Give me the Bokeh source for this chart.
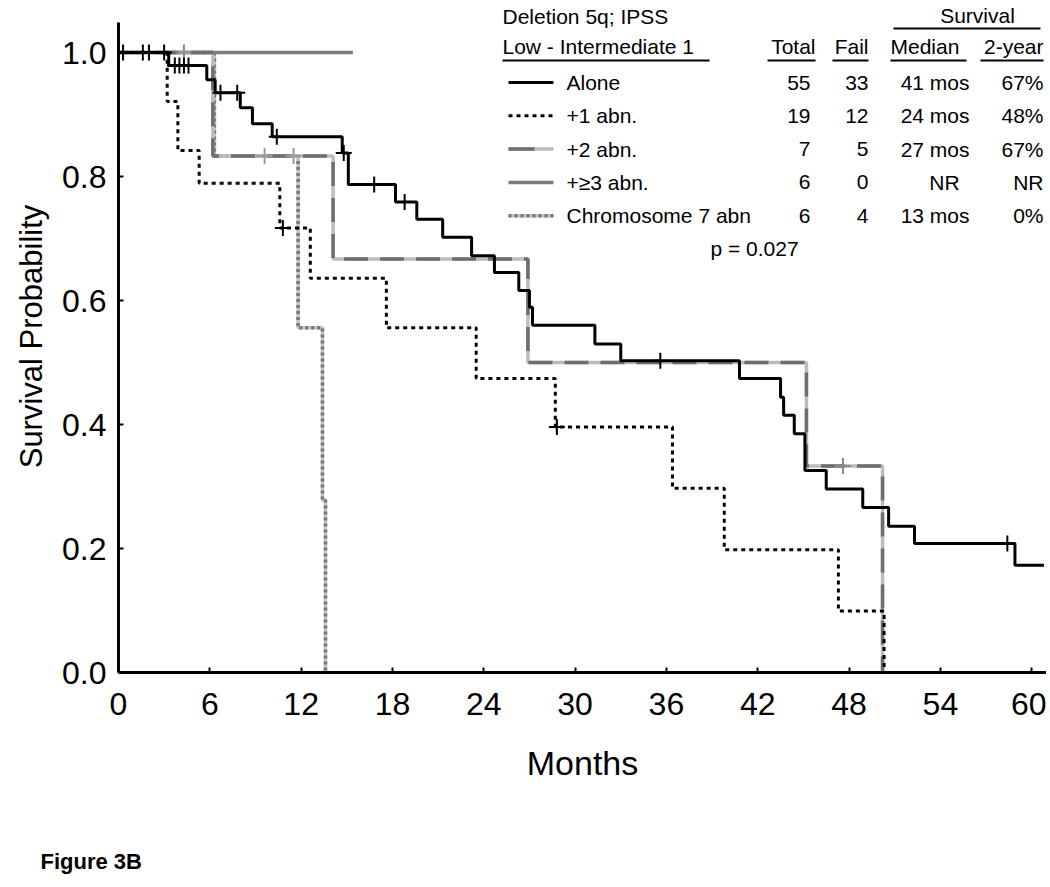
import numpy as np
from bokeh.plotting import figure
from bokeh.models import Range1d, FixedTicker, PrintfTickFormatter, Label, Title
from bokeh.embed import file_html
from bokeh.resources import INLINE

# ---------------- data ----------------
month_ticks = [0, 6, 12, 18, 24, 30, 36, 42, 48, 54, 60]
prob_ticks = [0.0, 0.2, 0.4, 0.6, 0.8, 1.0]

alone_t = [0, 3.3, 5.8, 6.35, 8.0, 8.8, 10.1, 14.7, 15.1, 18.2, 19.6, 21.3, 23.2, 24.7,
           26.3, 27.0, 27.2, 31.3, 33.0, 40.8, 43.5, 43.7, 44.4, 45.1, 46.5, 48.9, 50.6,
           52.3, 58.9, 60.8]
alone_s = [1.0, 0.979, 0.956, 0.935, 0.911, 0.885, 0.864, 0.838, 0.787, 0.759, 0.731, 0.702,
           0.672, 0.645, 0.616, 0.589, 0.560, 0.530, 0.503, 0.474, 0.444, 0.415, 0.385,
           0.326, 0.296, 0.266, 0.236, 0.208, 0.173, 0.173]
alone_cens = [0.3, 1.6, 2.0, 3.0, 3.7, 4.0, 4.3, 4.6, 6.7, 7.8, 10.4, 14.8, 16.8, 18.8, 35.6, 58.4]

abn1_t = [0, 3.2, 3.9, 5.3, 10.6, 12.6, 17.6, 23.5, 28.7, 36.4, 39.8, 47.3, 50.3]
abn1_s = [1.0, 0.921, 0.842, 0.789, 0.717, 0.636, 0.556, 0.474, 0.396, 0.297, 0.198, 0.099, 0.0]
abn1_cens = [10.8, 28.8]

abn2_t = [0, 6.2, 14.1, 26.9, 45.2, 50.2]
abn2_s = [1.0, 0.833, 0.667, 0.5, 0.333, 0.0]
abn2_cens = [4.3, 47.6]

abn3_t = [0, 15.4]
abn3_s = [1.0, 1.0]

chr7_t = [0, 6.3, 11.8, 13.4, 13.6]
chr7_s = [1.0, 0.833, 0.556, 0.278, 0.0]
chr7_cens = [9.6, 11.5]

groups = ["Alone", "+1 abn.", "+2 abn.", "+\u22653 abn.", "Chromosome 7 abn"]
totals = ["55", "19", "7", "6", "6"]
fails = ["33", "12", "5", "0", "4"]
medians = ["41 mos", "24 mos", "27 mos", "NR", "13 mos"]
two_year = ["67%", "48%", "67%", "NR", "0%"]
p_value = "p = 0.027"

# ---------------- layout (page pixels) ----------------
LEFT, RIGHT, AXTOP, BOTTOM = 118, 1046, 22, 672
W, H = 1046, 884
PX_X = 15.22      # pixels per month
PX_Y = 620.0      # pixels per unit probability
X_MAX = (RIGHT - LEFT) / PX_X
Y_MAX = BOTTOM / PX_Y          # frame reaches the top of the canvas
Y_AXIS_TOP = (BOTTOM - AXTOP) / PX_Y


def mx(px):
    return (px - LEFT) / PX_X


def my(py):
    return (BOTTOM - py) / PX_Y


def surv_at(ts, ss, tc):
    idx = np.searchsorted(np.array(ts), np.array(tc), side="right") - 1
    return [ss[i] for i in idx]


FONT = "Liberation Sans"

p = figure(width=W, height=H, x_range=Range1d(0, X_MAX), y_range=Range1d(0, Y_MAX),
           output_backend="svg", toolbar_location=None,
           min_border_left=LEFT, min_border_right=W - RIGHT,
           min_border_top=0, min_border_bottom=H - BOTTOM)
p.outline_line_color = None
p.xgrid.visible = False
p.ygrid.visible = False
p.background_fill_color = "white"
p.border_fill_color = "white"

for ax in (p.xaxis[0], p.yaxis[0]):
    ax.axis_line_width = 3
    ax.axis_line_color = "black"
    ax.major_tick_in = 5
    ax.major_tick_out = 0
    ax.major_tick_line_width = 2
    ax.minor_tick_line_color = None
    ax.major_label_text_font = FONT
    ax.major_label_text_font_size = "32px"
    ax.major_label_text_color = "black"
    ax.axis_label_text_font = FONT
    ax.axis_label_text_font_style = "normal"
    ax.axis_label_text_color = "black"

p.yaxis.bounds = (0, Y_AXIS_TOP)
p.xaxis.ticker = FixedTicker(ticks=month_ticks)
p.yaxis.ticker = FixedTicker(ticks=prob_ticks)
p.yaxis.formatter = PrintfTickFormatter(format="%.1f")
p.xaxis.major_label_standoff = 20
p.yaxis.major_label_standoff = 12
p.xaxis.axis_label = "Months"
p.xaxis.axis_label_text_font_size = "34px"
p.xaxis.axis_label_standoff = 26
p.yaxis.axis_label = "Survival Probability"
p.yaxis.axis_label_text_font_size = "31px"
p.yaxis.axis_label_standoff = 10

# empty spacer panel, then the figure caption at the bottom
spacer = Title(text=" ", standoff=46, text_font=FONT, text_font_size="10px")
p.add_layout(spacer, "below")
fig_title = Title(text="Figure 3B", align="left", offset=40 - LEFT, standoff=6,
                  vertical_align="bottom",
                  text_font=FONT, text_font_size="22px", text_font_style="bold",
                  text_color="black")
p.add_layout(fig_title, "below")

# ---------------- curves ----------------
LW = 3
p.step(chr7_t, chr7_s, mode="after", line_width=LW + 0.5, line_color="#c2c2c2")
p.step(chr7_t, chr7_s, mode="after", line_width=LW + 0.5, line_color="#767676", line_dash="3 3")
p.step(abn3_t, abn3_s, mode="after", line_width=LW + 0.5, line_color="#7c7c7c")
p.step(abn2_t, abn2_s, mode="after", line_width=LW + 0.5, line_color="#bcbcbc")
p.step(abn2_t, abn2_s, mode="after", line_width=LW + 0.5, line_color="#6e6e6e", line_dash="24 12")
p.step(abn1_t, abn1_s, mode="after", line_width=LW, line_color="black", line_dash="4 4")
p.step(alone_t, alone_s, mode="after", line_width=LW, line_color="black")

p.scatter(chr7_cens, surv_at(chr7_t, chr7_s, chr7_cens), marker="cross", size=16,
          line_width=2, line_color="#9a9a9a")
p.scatter(abn2_cens, surv_at(abn2_t, abn2_s, abn2_cens), marker="cross", size=16,
          line_width=2, line_color="#8a8a8a")
p.scatter(abn1_cens, surv_at(abn1_t, abn1_s, abn1_cens), marker="cross", size=16,
          line_width=2, line_color="black")
p.scatter(alone_cens, surv_at(alone_t, alone_s, alone_cens), marker="cross", size=16,
          line_width=2, line_color="black")

# ---------------- legend table ----------------
LFS = "21px"


def txt(x, y, s, align="left"):
    p.add_layout(Label(x=mx(x), y=my(y), text=s, text_align=align, text_baseline="middle",
                       text_font=FONT, text_font_size=LFS, text_color="black"))


def rule(x0, x1, y, w=2):
    p.line([mx(x0), mx(x1)], [my(y), my(y)], line_color="black", line_width=w)


txt(502, 16, "Deletion 5q; IPSS")
txt(977, 15, "Survival", "center")
rule(893, 1040, 28)
txt(502, 46, "Low - Intermediate 1")
rule(502, 709, 60)
txt(815, 46, "Total", "right")
rule(767, 815, 60)
txt(868, 46, "Fail", "right")
rule(832, 868, 60)
txt(890, 46, "Median")
rule(890, 966, 60)
txt(1043, 46, "2-year", "right")
rule(980, 1043, 60)

row_y0, row_dy = 82, 33.3
for i in range(len(groups)):
    ry = row_y0 + row_dy * i
    txt(566, ry, groups[i])
    txt(810, ry, totals[i], "right")
    txt(868, ry, fails[i], "right")
    if medians[i] == "NR":
        txt(944, ry, medians[i], "center")
    else:
        txt(969, ry, medians[i], "right")
    txt(1043, ry, two_year[i], "right")

txt(754, row_y0 + row_dy * 5 - 1, p_value, "center")

sx0, sx1 = 508, 553
ys = [my(row_y0 + row_dy * i) for i in range(5)]
p.line([mx(sx0), mx(sx1)], [ys[0]] * 2, line_color="black", line_width=LW)
p.line([mx(sx0), mx(sx1)], [ys[1]] * 2, line_color="black", line_width=LW, line_dash="4 4")
p.line([mx(sx0), mx(sx1)], [ys[2]] * 2, line_color="#bcbcbc", line_width=LW + 0.5)
p.line([mx(sx0), mx(sx0 + 26)], [ys[2]] * 2, line_color="#6e6e6e", line_width=LW + 0.5)
p.line([mx(sx0), mx(sx1)], [ys[3]] * 2, line_color="#7c7c7c", line_width=LW + 0.5)
p.line([mx(sx0), mx(sx1)], [ys[4]] * 2, line_color="#c2c2c2", line_width=LW + 0.5)
p.line([mx(sx0), mx(sx1)], [ys[4]] * 2, line_color="#767676", line_width=LW + 0.5,
       line_dash="3 3")

open("out.html", "w").write(file_html(p, INLINE))
